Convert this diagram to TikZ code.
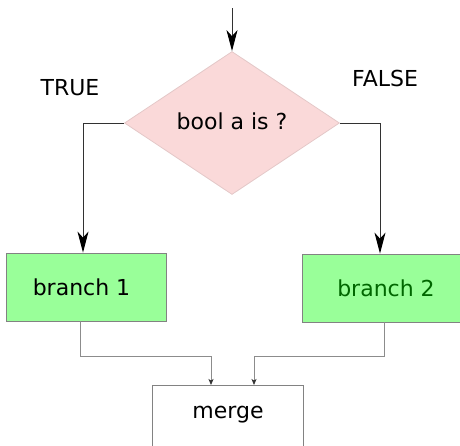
\documentclass[tikz,border=0pt]{standalone}
\usepackage{fontspec}
\setmainfont{DejaVu Sans}
\usetikzlibrary{shapes.geometric,arrows.meta}
\definecolor{dfill}{RGB}{250,217,217}
\definecolor{ddraw}{RGB}{228,200,200}
\definecolor{bfill}{RGB}{153,255,153}
\definecolor{bdraw}{RGB}{130,130,130}
\definecolor{dgreen}{RGB}{0,102,0}
\definecolor{lined}{RGB}{50,50,50}
\definecolor{linel}{RGB}{140,140,140}
\tikzset{
  decision/.style={diamond, fill=dfill, draw=ddraw, line width=0.8pt, inner sep=0pt, minimum width=215pt, minimum height=143pt},
  branchbox/.style={rectangle, fill=bfill, draw=bdraw, line width=0.8pt, minimum width=160pt, minimum height=68pt, inner sep=0pt},
  bigarrow/.style={draw=lined, line width=1pt, -{Stealth[length=21pt,width=11pt,inset=6pt,color=black]}},
  smallarrow/.style={draw=linel, line width=0.8pt, -{Stealth[length=6pt,width=5pt,inset=1.5pt,color=black!80]}},
  lbl/.style={inner sep=0pt}
}
\begin{document}
\begin{tikzpicture}[x=1pt,y=-1pt,font=\fontsize{22}{26}\selectfont]
\useasboundingbox (0,0) rectangle (460,445);
\node[decision] (d) at (232,123) {};
\node[lbl] (dt) at (232,121) {bool a is ?};
\node[branchbox] (b1) at (86,287) {\hspace*{-9pt}branch 1};
\node[branchbox, text=dgreen] (b2) at (382,288) {\hspace*{8pt}branch 2};
\node[rectangle, draw=bdraw, line width=0.8pt, minimum width=151pt, inner sep=0pt, text height=33pt, text depth=37pt, anchor=north] (m) at (228,385) {merge};
\node[lbl] (t) at (70,88) {TRUE};
\node[lbl] (f) at (385,78) {FALSE};
\coordinate (start) at (232,8);
\draw[bigarrow] (start) -- (d.north);
\draw[bigarrow] (d.west) -| ([xshift=-3pt]b1.north);
\draw[bigarrow] (d.east) -| ([xshift=-2pt]b2.north);
\draw[smallarrow] ([xshift=-6pt]b1.south) |- ([xshift=-17pt,yshift=29pt]m.north) -- ([xshift=-17pt]m.north);
\draw[smallarrow] ([xshift=2pt]b2.south) |- ([xshift=26pt,yshift=29pt]m.north) -- ([xshift=26pt]m.north);
\end{tikzpicture}
\end{document}
